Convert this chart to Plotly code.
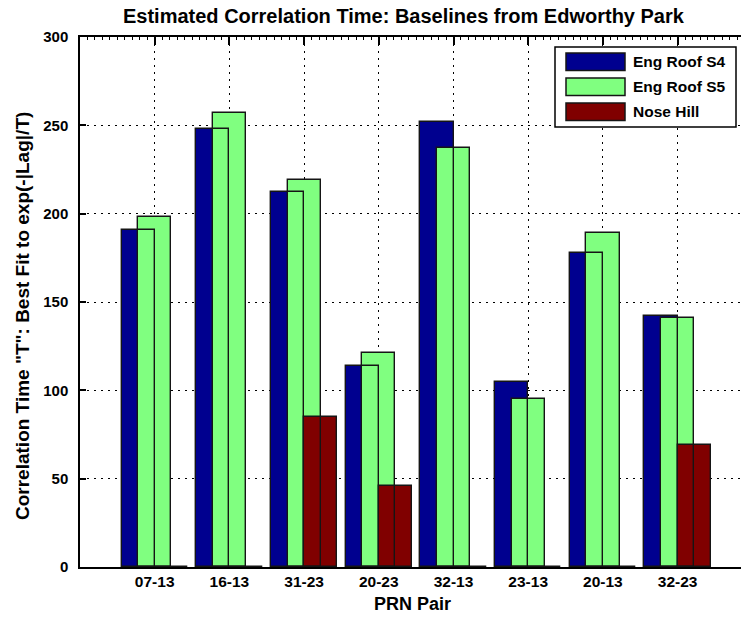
import plotly.graph_objects as go
import numpy as np

# ---- data ----
pairs = ["07-13", "16-13", "31-23", "20-23", "32-13", "23-13", "20-13", "32-23"]
eng_roof_s4 = [191, 248, 212, 114, 252, 105, 178, 142]
eng_roof_s5 = [198, 257, 219, 121, 237, 95, 189, 141]
nose_hill = [0, 0, 85, 46, 0, 0, 0, 69]
series_names = ["Eng Roof S4", "Eng Roof S5", "Nose Hill"]
series_colors = ["#00008F", "#80FF80", "#800000"]
y_ticks = [0, 50, 100, 150, 200, 250, 300]

title_text = "Estimated Correlation Time: Baselines from Edworthy Park"
ylabel_text = "Correlation Time \"T\": Best Fit to exp(-|Lag|/T)"
xlabel_text = "PRN Pair"

# ---- layout geometry ----
FIG_W, FIG_H = 741, 620
PL, PT, PB = 80, 37, 567          # plot left / top / bottom in px
PR = FIG_W
GROUP_PX = 74.7
x_max = (PR - PL) / GROUP_PX
step = (2.0 / 3.0) / 3.0
bar_w = 2 * step                   # overlapping bars, width = 2 * offset

FONT = "Liberation Sans, Arial, Helvetica, sans-serif"
EDGE = "#151515"

def pxx(px):
    return (px - PL) / (PR - PL)

def pxy(py):
    return (PB - py) / (PB - PT)

xpos = np.arange(1, len(pairs) + 1)
all_series = [eng_roof_s4, eng_roof_s5, nose_hill]

fig = go.Figure()
# fills first
for i, (vals, col, name) in enumerate(zip(all_series, series_colors, series_names)):
    fig.add_trace(go.Bar(
        x=xpos, y=vals, width=bar_w, offset=-bar_w + i * step,
        marker=dict(color=col, line=dict(width=0)),
        name=name, showlegend=False,
    ))
# edges on top of all fills
for i, vals in enumerate(all_series):
    fig.add_trace(go.Bar(
        x=xpos, y=vals, width=bar_w, offset=-bar_w + i * step,
        marker=dict(color="rgba(0,0,0,0)", line=dict(width=1.4, color=EDGE)),
        showlegend=False, hoverinfo="skip",
    ))
# dummy trace for top axis
fig.add_trace(go.Scatter(x=[0], y=[None], xaxis="x2", showlegend=False, hoverinfo="skip"))

grid = dict(showgrid=True, gridcolor="black", gridwidth=1, griddash="2px,5px")

fig.update_layout(
    width=FIG_W, height=FIG_H,
    margin=dict(l=PL, r=FIG_W - PR, t=PT, b=FIG_H - PB, pad=0),
    paper_bgcolor="white", plot_bgcolor="white",
    barmode="overlay", bargap=0,
    font=dict(family=FONT, color="black", size=15, weight=700),
    xaxis=dict(
        range=[0, x_max], tickmode="array", tickvals=xpos, ticktext=pairs,
        ticks="", showline=True, linecolor="black", linewidth=1.5,
        tickfont=dict(size=15.5, family=FONT, weight=700),
        ticklabelstandoff=0, layer="below traces", zeroline=False, **grid,
    ),
    xaxis2=dict(
        overlaying="x", side="top", matches="x", range=[0, x_max],
        tickmode="array", tickvals=xpos, showticklabels=False,
        ticks="inside", ticklen=8, tickwidth=1.5, tickcolor="black",
        showline=True, linecolor="black", linewidth=1.5, showgrid=False,
        minor=dict(tickmode="linear", tick0=0, dtick=0.1, ticks="inside",
                   ticklen=3, tickwidth=1, tickcolor="black"),
        zeroline=False,
    ),
    yaxis=dict(
        range=[0, 300], tickmode="array", tickvals=y_ticks,
        ticks="inside", ticklen=6, tickwidth=1.5, tickcolor="black",
        showline=True, linecolor="black", linewidth=1.5,
        tickfont=dict(size=15, family=FONT, weight=700),
        ticklabelstandoff=7, zeroline=False, layer="below traces", **grid,
    ),
)

# ---- titles ----
fig.add_annotation(text=title_text, xref="paper", yref="paper",
                   x=pxx(404), y=pxy(16), showarrow=False, xanchor="center", yanchor="middle",
                   font=dict(size=20, family=FONT, weight=700))
fig.add_annotation(text=ylabel_text, xref="paper", yref="paper",
                   x=pxx(22), y=pxy(316), showarrow=False, textangle=-90,
                   xanchor="center", yanchor="middle",
                   font=dict(size=19, family=FONT, weight=700))
fig.add_annotation(text=xlabel_text, xref="paper", yref="paper",
                   x=pxx(412), y=pxy(604), showarrow=False, xanchor="center", yanchor="middle",
                   font=dict(size=18, family=FONT, weight=700))

# ---- legend (drawn) ----
shapes = [dict(type="rect", xref="paper", yref="paper",
               x0=pxx(555), x1=pxx(736), y0=pxy(127), y1=pxy(47),
               line=dict(color="black", width=1.5), fillcolor="white", layer="above")]
row_tops = [53, 78, 103]
for top, col, name in zip(row_tops, series_colors, series_names):
    shapes.append(dict(type="rect", xref="paper", yref="paper",
                       x0=pxx(566), x1=pxx(625), y0=pxy(top + 17.5), y1=pxy(top),
                       line=dict(color=EDGE, width=1.5), fillcolor=col, layer="above"))
    fig.add_annotation(text=name, xref="paper", yref="paper",
                       x=pxx(631), y=pxy(top + 8.8), showarrow=False,
                       xanchor="left", yanchor="middle",
                       font=dict(size=15.5, family=FONT, weight=700))
fig.update_layout(shapes=shapes)

fig.write_html("out.html")
